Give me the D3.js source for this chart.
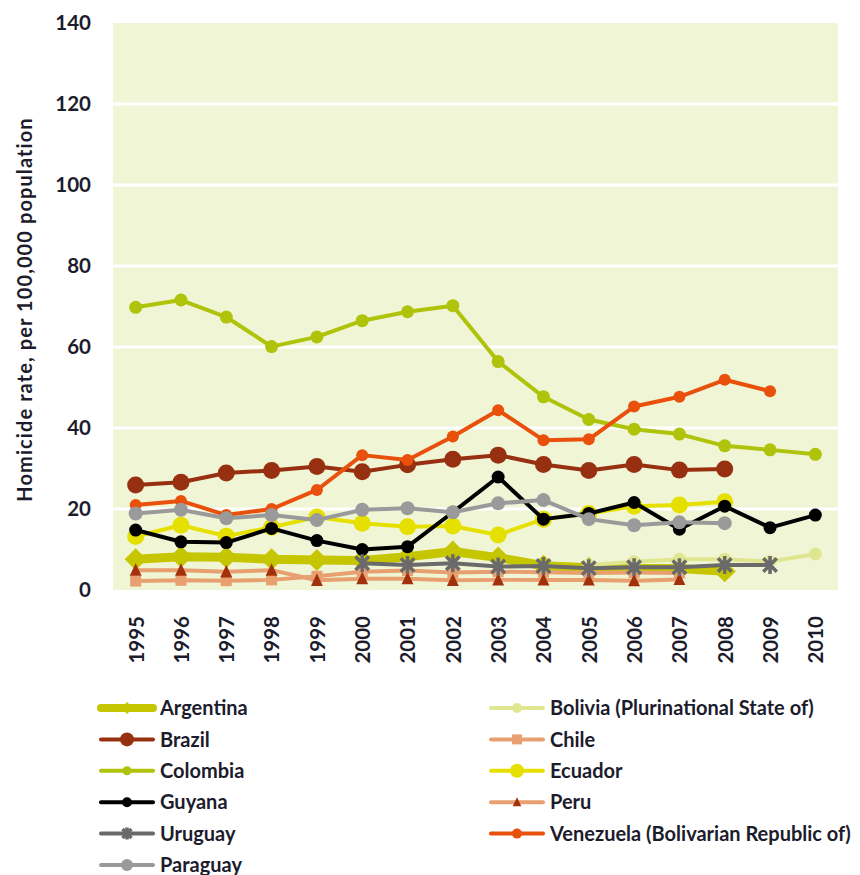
<!DOCTYPE html>
<html>
<head>
    <title>Homicide rates, South America</title>
    <script src="https://d3js.org/d3.v7.min.js"></script>
    <style>
        body { margin: 0; background: #fff; }
        text { font-family: Lato, "Noto Sans", sans-serif; font-weight: bold; fill: #1c1c2c; }
    </style>
</head>
<body>
    <div id="chart"></div>
    <script>
// years on the x axis
const years = ['1995','1996','1997','1998','1999','2000','2001','2002','2003','2004','2005','2006','2007','2008','2009','2010'];
const yTicks = [0, 20, 40, 60, 80, 100, 120, 140];

// homicide rate per 100,000 (null = no data)
const argentina = [7.6, 8.2, 8.1, 7.6, 7.4, 7.3, 8.2, 9.5, 8.0, 6.0, 5.5, 5.3, 5.3, 4.6, null, null];
const bolivia   = [null, null, null, null, null, null, null, null, null, null, 6.2, 7.0, 7.6, 7.6, 7.0, 8.9];
const brazil    = [25.9, 26.6, 28.9, 29.5, 30.5, 29.2, 30.9, 32.3, 33.3, 31.0, 29.5, 31.0, 29.6, 29.9, null, null];
const chile     = [2.2, 2.4, 2.3, 2.5, 3.4, 4.5, 4.8, 4.3, 4.5, 4.4, 4.2, 4.3, 4.2, null, null, null];
const colombia  = [69.8, 71.6, 67.4, 60.1, 62.5, 66.5, 68.7, 70.2, 56.4, 47.7, 42.1, 39.7, 38.5, 35.6, 34.6, 33.5];
const ecuador   = [13.2, 16.0, 13.3, 15.5, 18.0, 16.5, 15.6, 15.8, 13.6, 17.5, 18.9, 20.7, 21.0, 21.8, null, null];
const guyana    = [14.8, 11.9, 11.7, 15.2, 12.2, 10.0, 10.7, 19.2, 27.9, 17.5, 18.9, 21.6, 15.0, 20.7, 15.4, 18.5];
const peru      = [4.9, 4.9, 4.5, 4.9, 2.4, 2.8, 2.8, 2.4, 2.5, 2.5, 2.5, 2.3, 2.6, null, null, null];
const uruguay   = [null, null, null, null, null, 6.6, 6.2, 6.6, 5.8, 5.9, 5.4, 5.6, 5.6, 6.2, 6.2, null];
const venezuela = [21.0, 22.0, 18.5, 20.0, 24.7, 33.3, 32.1, 37.9, 44.4, 37.0, 37.2, 45.3, 47.7, 51.9, 49.1, null];
const paraguay  = [18.9, 19.8, 17.7, 18.5, 17.3, 19.8, 20.2, 19.2, 21.4, 22.2, 17.5, 16.0, 16.7, 16.5, null, null];

const names = ['Argentina', 'Bolivia (Plurinational State of)', 'Brazil', 'Chile', 'Colombia', 'Ecuador',
    'Guyana', 'Peru', 'Uruguay', 'Venezuela (Bolivarian Republic of)', 'Paraguay'];
const values = [argentina, bolivia, brazil, chile, colombia, ecuador, guyana, peru, uruguay, venezuela, paraguay];

// look of each series, same order as names
const styles = [
    { line: '#c6c600', lw: 9, marker: 'diamond', size: 11, fill: '#c6c600', legendSize: 6 },
    { line: '#e0e690', lw: 4, marker: 'circle', size: 6.5, fill: '#e0e690', legendSize: 5 },
    { line: '#973010', lw: 4, marker: 'circle', size: 8.5, fill: '#973010', legendSize: 7 },
    { line: '#e8a070', lw: 4, marker: 'square', size: 5.5, fill: '#e8a070', legendSize: 5 },
    { line: '#afc30a', lw: 4, marker: 'circle', size: 6.5, fill: '#afc30a', legendSize: 4.5 },
    { line: '#e6e000', lw: 4, marker: 'circle', size: 8.5, fill: '#e6e000', legendSize: 7 },
    { line: '#000000', lw: 4, marker: 'circle', size: 6.5, fill: '#000000', legendSize: 5 },
    { line: '#e8a070', lw: 4, marker: 'triangle', size: 7, fill: '#a3300c', legendSize: 5 },
    { line: '#6a6a6a', lw: 4, marker: 'star', size: 9, fill: '#6a6a6a', legendSize: 6 },
    { line: '#e8500c', lw: 4, marker: 'circle', size: 6, fill: '#e8500c', legendSize: 5 },
    { line: '#9a9a9a', lw: 4, marker: 'circle', size: 7, fill: '#9a9a9a', legendSize: 6 }
];

const width = 860;
const height = 875;
const plot = { left: 113, right: 838, top: 23, bottom: 590 };

const svg = d3.select('#chart')
    .append('svg')
    .attr('width', width)
    .attr('height', height);

const x = d3.scalePoint()
    .domain(years)
    .range([plot.left, plot.right])
    .padding(0.5);

const y = d3.scaleLinear()
    .domain([0, 140])
    .range([plot.bottom, plot.top]);

// plot background
svg.append('rect')
    .attr('x', plot.left)
    .attr('y', plot.top)
    .attr('width', plot.right - plot.left)
    .attr('height', plot.bottom - plot.top)
    .attr('fill', '#f0f5d6');

// white gridlines
svg.append('g')
    .selectAll('line')
    .data(yTicks.filter(d => d > 0 && d < 140))
    .enter()
    .append('line')
    .attr('x1', plot.left)
    .attr('x2', plot.right)
    .attr('y1', d => y(d))
    .attr('y2', d => y(d))
    .attr('stroke', '#fff')
    .attr('stroke-width', 3);

// y axis labels (no axis line)
const yAxis = svg.append('g')
    .attr('transform', `translate(${plot.left - 22},0)`)
    .call(d3.axisLeft(y).tickValues(yTicks).tickSize(0).tickPadding(0));
yAxis.select('.domain').remove();
yAxis.selectAll('text')
    .attr('font-size', 20.5)
    .attr('font-family', 'Lato, sans-serif')
    .attr('font-weight', 'bold')
    .attr('fill', '#1c1c2c');

// x axis labels, rotated
const xAxis = svg.append('g')
    .attr('transform', `translate(0,${plot.bottom + 26})`)
    .call(d3.axisBottom(x).tickSize(0).tickPadding(0));
xAxis.select('.domain').remove();
xAxis.selectAll('text')
    .attr('font-size', 20.5)
    .attr('font-family', 'Lato, sans-serif')
    .attr('font-weight', 'bold')
    .attr('fill', '#1c1c2c')
    .attr('transform', 'rotate(-90)')
    .attr('text-anchor', 'end')
    .attr('x', 0)
    .attr('y', 0)
    .attr('dy', '0.36em');

svg.append('text')
    .attr('transform', `translate(32,${(plot.top + plot.bottom) / 2 + 3}) rotate(-90)`)
    .attr('text-anchor', 'middle')
    .attr('font-size', 20)
    .attr('letter-spacing', 1.1)
    .text('Homicide rate, per 100,000 population');

function markerPath(type, s) {
    if (type === 'diamond') return `M0,${-s}L${s},0L0,${s}L${-s},0Z`;
    if (type === 'square') return `M${-s},${-s}H${s}V${s}H${-s}Z`;
    if (type === 'triangle') return `M0,${-s}L${s * 0.85},${s * 0.8}L${-s * 0.85},${s * 0.8}Z`;
    if (type === 'star') {
        const d = s * 0.75;
        return `M0,${-s}V${s}M${-d},${-d}L${d},${d}M${-d},${d}L${d},${-d}`;
    }
    return d3.symbol(d3.symbolCircle, Math.PI * s * s)();
}

function drawMarker(g, st, s) {
    const p = g.append('path').attr('d', markerPath(st.marker, s));
    if (st.marker === 'star') {
        p.attr('fill', 'none').attr('stroke', st.fill).attr('stroke-width', 3.5);
    } else {
        p.attr('fill', st.fill);
    }
    return p;
}

const line = d3.line()
    .defined(d => d.v != null)
    .x(d => x(d.year))
    .y(d => y(d.v));

names.forEach((name, i) => {
    const st = styles[i];
    const pts = years.map((year, j) => ({ year: year, v: values[i][j] }));
    const g = svg.append('g').attr('class', 'series');

    g.append('path')
        .datum(pts)
        .attr('fill', 'none')
        .attr('stroke', st.line)
        .attr('stroke-width', st.lw)
        .attr('stroke-linejoin', 'round')
        .attr('d', line);

    g.selectAll('g.pt')
        .data(pts.filter(d => d.v != null))
        .enter()
        .append('g')
        .attr('class', 'pt')
        .attr('transform', d => `translate(${x(d.year)},${y(d.v)})`)
        .each(function () { drawMarker(d3.select(this), st, st.size); });
});

// legend, two columns filled row by row
const legend = svg.append('g');
names.forEach((name, i) => {
    const st = styles[i];
    const col = i % 2;
    const row = Math.floor(i / 2);
    const g = legend.append('g')
        .attr('transform', `translate(${col === 0 ? 101 : 491},${708 + row * 31.4})`);
    g.append('line')
        .attr('x1', 0)
        .attr('x2', 52)
        .attr('stroke', st.line)
        .attr('stroke-width', st.lw === 9 ? 8 : 4)
        .attr('stroke-linecap', 'round');
    const m = g.append('g').attr('transform', 'translate(26,0)');
    drawMarker(m, st, st.legendSize);
    g.append('text')
        .attr('x', 59)
        .attr('dy', '0.36em')
        .attr('font-size', 20)
        .text(name);
});
    </script>
</body>
</html>
